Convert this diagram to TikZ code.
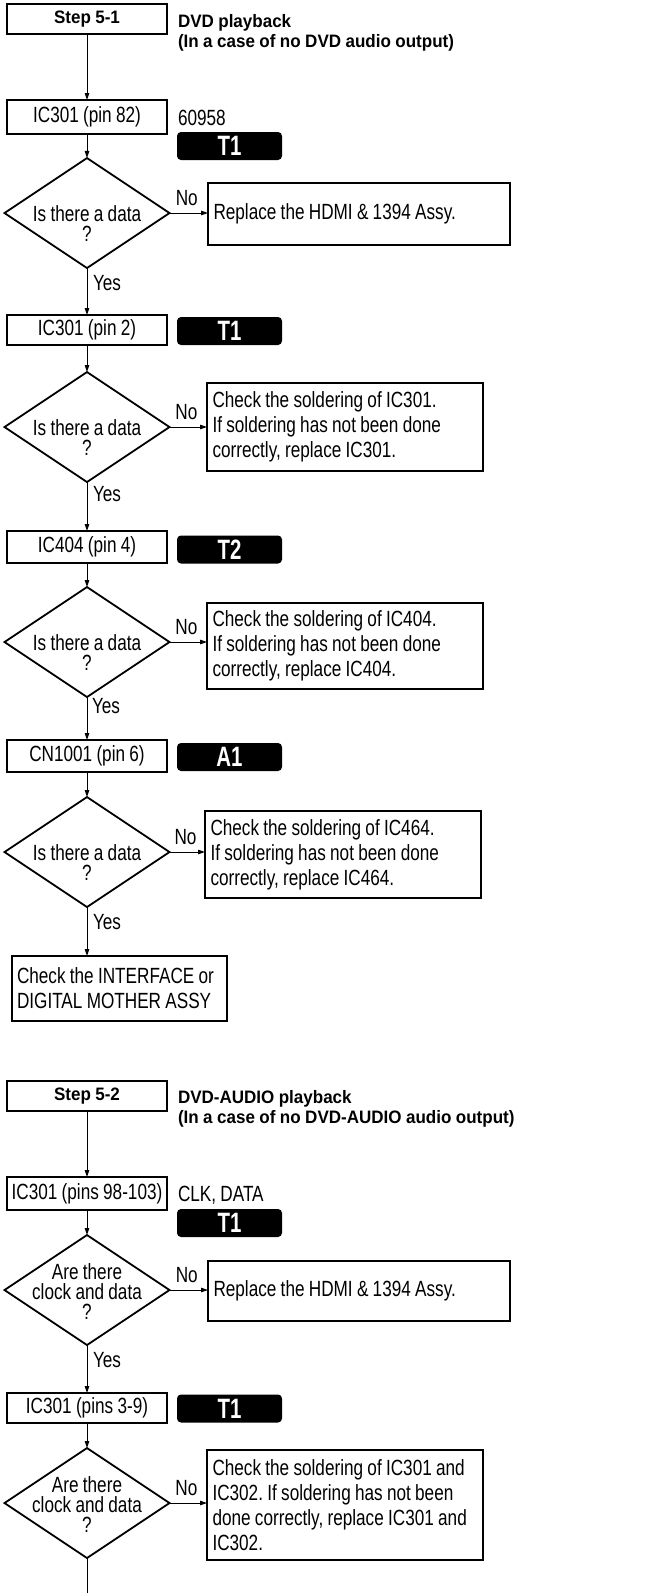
\documentclass[tikz,border=0pt]{standalone}
\usepackage{fontspec}
\setmainfont{Liberation Sans}
\newfontfamily\bodyf{Liberation Sans}[FakeStretch=0.78,WordSpace=0.9]
\newfontfamily\headf{Liberation Sans}[FakeStretch=0.945,WordSpace=0.945]
\newfontfamily\tagf{Liberation Sans}[FakeStretch=0.73]
\usetikzlibrary{shapes.geometric,arrows.meta}
\begin{document}
\begin{tikzpicture}[x=1pt,y=-1pt,
  every node/.style={inner sep=0pt,outer sep=0pt},
  bodyfont/.style={font=\bodyf\fontsize{22}{25}\selectfont},
  lbox/.style={draw,line width=1.8pt,bodyfont,minimum width=160pt,align=center},
  stepbox/.style={draw,line width=1.8pt,font=\headf\bfseries\fontsize{18}{20}\selectfont,minimum width=160pt,minimum height=30pt},
  tagbox/.style={fill=black,rounded corners=4pt,minimum width=105pt,minimum height=28pt,text=white,font=\tagf\bfseries\fontsize{28}{28}\selectfont},
  dia/.style={draw,diamond,line width=1.8pt,minimum width=165pt,minimum height=110pt},
  dtext/.style={font=\bodyf\fontsize{22}{20}\selectfont,align=center},
  rbox/.style={draw,line width=1.8pt,bodyfont,align=flush left,inner xsep=5.5pt,
    execute at begin node={\frenchspacing\spaceskip=0pt\xspaceskip=0pt\relax}},
  hdr/.style={font=\headf\bfseries\fontsize{18}{20}\selectfont,align=left,anchor=west},
  plain/.style={bodyfont,anchor=west},
  lab/.style={bodyfont},
  arr/.style={-{Triangle[length=7pt,width=4.5pt]},line width=0.9pt},
  conn/.style={line width=0.9pt}
]
\fill[white] (0,0) rectangle (645,1593);
\useasboundingbox (0,0) rectangle (645,1593);

% ---------- Step 5-1 ----------
\node[stepbox] (step1) at (87,19) {Step 5-1};
\node[hdr] (hdr1) at (178,33) {DVD playback\\(In a case of no DVD audio output)};

\node[lbox,minimum height=34pt] (ic1) at (87,117) {IC301 (pin 82)};
\node[plain] (n1) at (178,118) {60958};
\node[tagbox] (t1) at (229.5,146) {T1};

\node[dia] (d1) at (87,213) {};
\node[dtext] (d1t) at (87,224) {Is there a data\\?};
\node[rbox,text width=291pt,minimum height=62pt] (r1) at (359,214) {Replace the HDMI \& 1394 Assy.};

\node[lbox,minimum height=30pt] (ic2) at (87,330) {IC301 (pin 2)};
\node[tagbox] (t2) at (229.5,331) {T1};

\node[dia] (d2) at (87,427) {};
\node[dtext] (d2t) at (87,438) {Is there a data\\?};
\node[rbox,text width=265pt,minimum height=88pt] (r2) at (345,427) {Check the soldering of IC301.\\If soldering has not been done\\correctly, replace IC301.};

\node[lbox,minimum height=32pt] (ic3) at (87,547) {IC404 (pin 4)};
\node[tagbox] (t3) at (229.5,549.5) {T2};

\node[dia] (d3) at (87,642) {};
\node[dtext] (d3t) at (87,653) {Is there a data\\?};
\node[rbox,text width=265pt,minimum height=86pt] (r3) at (345,646) {Check the soldering of IC404.\\If soldering has not been done\\correctly, replace IC404.};

\node[lbox,minimum height=32pt] (ic4) at (87,756) {CN1001 (pin 6)};
\node[tagbox] (t4) at (229.5,757) {A1};

\node[dia] (d4) at (87,852) {};
\node[dtext] (d4t) at (87,863) {Is there a data\\?};
\node[rbox,text width=265pt,minimum height=87pt] (r4) at (343,854.5) {Check the soldering of IC464.\\If soldering has not been done\\correctly, replace IC464.};

\node[rbox,inner xsep=5pt,text width=205pt,minimum height=65pt] (f1) at (119.5,988.5) {Check the INTERFACE or\\DIGITAL MOTHER ASSY};

\draw[arr] (step1) -- (ic1);
\draw[arr] (ic1) -- (d1);
\draw[arr] (d1.east) -- node[lab,above=7pt,pos=0.45] {No} (d1.east -| r1.west);
\draw[arr] (d1.south) -- node[lab,right=6pt,pos=0.32] {Yes} (ic2.north);
\draw[arr] (ic2) -- (d2);
\draw[arr] (d2.east) -- node[lab,above=7pt,pos=0.45] {No} (d2.east -| r2.west);
\draw[arr] (d2.south) -- node[lab,right=6pt,pos=0.25] {Yes} (ic3.north);
\draw[arr] (ic3) -- (d3);
\draw[arr] (d3.east) -- node[lab,above=7pt,pos=0.45] {No} (d3.east -| r3.west);
\draw[arr] (d3.south) -- node[lab,right=5pt,pos=0.2] {Yes} (ic4.north);
\draw[arr] (ic4) -- (d4);
\draw[arr] (d4.east) -- node[lab,above=7pt,pos=0.45] {No} (d4.east -| r4.west);
\draw[arr] (d4.south) -- node[lab,right=6pt,pos=0.31] {Yes} (d4.south |- f1.north);

% ---------- Step 5-2 ----------
\node[stepbox] (step2) at (87,1096) {Step 5-2};
\node[hdr] (hdr2) at (178,1109) {DVD-AUDIO playback\\(In a case of no DVD-AUDIO audio output)};

\node[lbox,minimum height=33pt] (ic5) at (87,1193.5) {IC301 (pins 98-103)};
\node[plain] (n2) at (178,1195) {CLK, DATA};
\node[tagbox] (t5) at (229.5,1223) {T1};

\node[dia] (d5) at (87,1290) {};
\node[dtext] (d5t) at (87,1292) {Are there\\clock and data\\?};
\node[rbox,text width=291pt,minimum height=60pt] (r5) at (359,1291) {Replace the HDMI \& 1394 Assy.};

\node[lbox,minimum height=30pt] (ic6) at (87,1408) {IC301 (pins 3-9)};
\node[tagbox] (t6) at (229.5,1408.5) {T1};

\node[dia] (d6) at (87,1503) {};
\node[dtext] (d6t) at (87,1505) {Are there\\clock and data\\?};
\node[rbox,text width=265pt,minimum height=110pt] (r6) at (345,1505) {Check the soldering of IC301 and\\IC302. If soldering has not been\\done correctly, replace IC301 and\\IC302.};
\coordinate (end) at (87,1593);

\draw[arr] (step2) -- (ic5);
\draw[arr] (ic5) -- (d5);
\draw[arr] (d5.east) -- node[lab,above=7pt,pos=0.45] {No} (d5.east -| r5.west);
\draw[arr] (d5.south) -- node[lab,right=6pt,pos=0.31] {Yes} (ic6.north);
\draw[arr] (ic6) -- (d6);
\draw[arr] (d6.east) -- node[lab,above=7pt,pos=0.45] {No} (d6.east -| r6.west);
\draw[conn] (d6.south) -- (end);
\end{tikzpicture}
\end{document}
